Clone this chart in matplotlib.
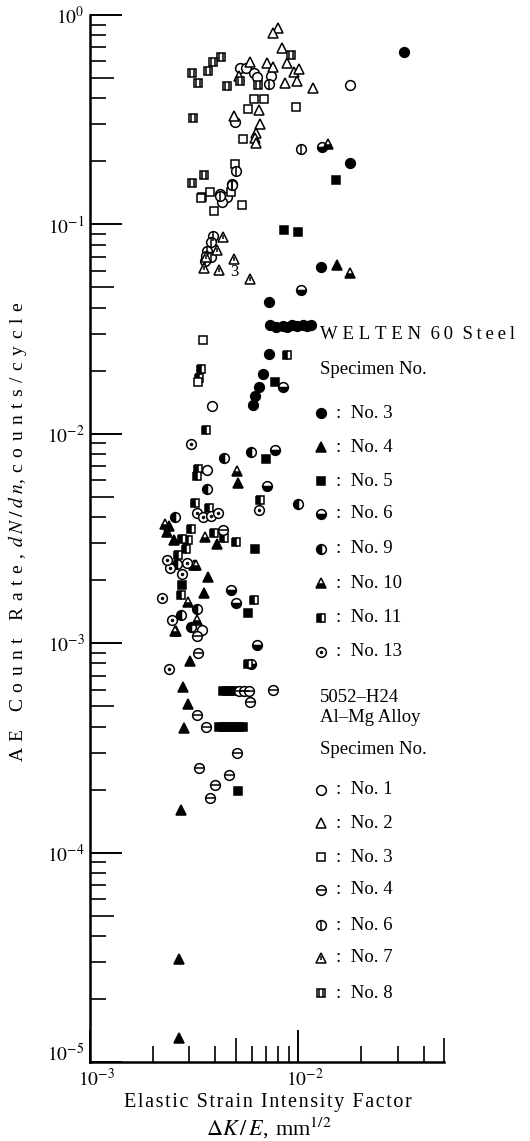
import matplotlib
matplotlib.use("Agg")
import matplotlib.pyplot as plt
import matplotlib.transforms as mtrans
from matplotlib.path import Path
from matplotlib.ticker import FixedLocator, NullLocator, NullFormatter

plt.rcParams['font.family'] = ['Liberation Serif', 'DejaVu Serif']
plt.rcParams['mathtext.fontset'] = 'stix'

# ---------------- data (WELTEN 60 steel) ----------------
s3_x = [3.2e-2, 1.76e-2, 1.29e-2, 7.26e-3, 7.33e-3, 7.8e-3, 8.4e-3, 8.85e-3, 9.3e-3, 9.9e-3, 1.05e-2, 1.1e-2,
        1.15e-2, 7.2e-3, 6.8e-3, 6.5e-3, 6.2e-3, 6.08e-3]
s3_y = [0.665, 0.196, 0.0626, 0.0426, 0.0330, 0.0325, 0.0328, 0.0322, 0.0330, 0.0326, 0.0330, 0.0328,
        0.0330, 0.024, 0.0193, 0.0167, 0.0152, 0.0137]

s4_x = [1.54e-2, 5.15e-3, 4.08e-3, 2.4e-3, 2.35e-3, 2.53e-3, 3.69e-3, 3.54e-3, 2.59e-3, 3.03e-3, 2.8e-3,
        2.96e-3, 2.83e-3, 2.74e-3, 2.68e-3, 2.68e-3]
s4_y = [0.064, 5.8e-3, 2.98e-3, 3.63e-3, 3.4e-3, 3.1e-3, 2.07e-3, 1.74e-3, 1.14e-3, 8.2e-4, 6.2e-4,
        5.1e-4, 3.94e-4, 1.6e-4, 3.1e-5, 1.3e-5]

s5_x = [1.51e-2, 8.57e-3, 1.0e-2, 7.74e-3, 7.0e-3, 6.2e-3, 2.77e-3, 5.75e-3, 5.15e-3,
        4.36e-3, 4.56e-3, 4.77e-3, 4.98e-3,
        4.17e-3, 4.36e-3, 4.56e-3, 4.77e-3, 4.98e-3, 5.2e-3, 5.44e-3]
s5_y = [0.163, 0.094, 0.092, 0.0177, 7.58e-3, 2.82e-3, 1.9e-3, 1.39e-3, 1.97e-4,
        5.9e-4, 5.9e-4, 5.9e-4, 5.9e-4,
        3.98e-4, 3.98e-4, 3.98e-4, 3.98e-4, 3.98e-4, 3.98e-4, 3.98e-4]

s6_x = [1.3e-2, 1.03e-2, 8.48e-3, 7.74e-3, 7.1e-3, 4.76e-3, 5.0e-3, 6.35e-3, 5.93e-3]
s6_y = [0.234, 0.0486, 0.0167, 8.37e-3, 5.63e-3, 1.8e-3, 1.56e-3, 9.8e-4, 7.96e-4]

s9_x = [4.41e-3, 5.93e-3, 3.66e-3, 1.0e-2, 2.56e-3, 3.27e-3, 2.74e-3, 3.06e-3, 2.62e-3]
s9_y = [7.66e-3, 8.2e-3, 5.45e-3, 4.62e-3, 4.0e-3, 1.46e-3, 1.36e-3, 1.19e-3, 2.39e-3]

s10_x = [1.38e-2, 1.76e-2, 5.09e-3, 3.57e-3, 3.16e-3, 2.96e-3, 3.27e-3, 2.56e-3, 3.23e-3, 2.3e-3]
s10_y = [0.242, 0.0586, 6.64e-3, 3.2e-3, 2.36e-3, 1.57e-3, 1.29e-3, 1.14e-3, 2.37e-3, 3.7e-3]

s11_x = [3.6e-3, 3.3e-3, 3.27e-3, 3.2e-3, 3.74e-3, 3.06e-3, 2.77e-3, 2.96e-3, 2.9e-3, 3.95e-3, 4.41e-3,
         5.04e-3, 2.65e-3, 6.15e-3, 2.74e-3, 8.85e-3, 6.56e-3, 5.75e-3, 3.4e-3, 3.35e-3]
s11_y = [1.04e-2, 6.8e-3, 6.29e-3, 4.67e-3, 4.42e-3, 3.51e-3, 3.15e-3, 3.1e-3, 2.82e-3, 3.36e-3, 3.17e-3,
         3.04e-3, 2.64e-3, 1.61e-3, 1.7e-3, 0.0238, 4.83e-3, 7.96e-4, 0.0204, 0.0185]

s13_x = [3.06e-3, 3.27e-3, 3.5e-3, 3.82e-3, 4.12e-3, 6.5e-3, 2.43e-3, 2.77e-3, 2.22e-3, 2.48e-3, 2.4e-3,
         2.93e-3, 2.35e-3]
s13_y = [8.94e-3, 4.19e-3, 4.0e-3, 4.05e-3, 4.19e-3, 4.33e-3, 2.29e-3, 2.14e-3, 1.64e-3, 1.29e-3, 7.5e-4,
         2.41e-3, 2.5e-3]

# ---------------- data (5052-H24 Al-Mg alloy) ----------------
a1_x = [1.76e-2, 5.26e-3, 5.6e-3, 6.15e-3, 6.35e-3, 7.4e-3, 4.98e-3, 4.22e-3, 4.55e-3, 4.32e-3, 3.86e-3,
        3.66e-3, 3.45e-3]
a1_y = [0.463, 0.558, 0.558, 0.529, 0.506, 0.51, 0.308, 0.14, 0.135, 0.128, 0.0136, 6.7e-3, 1.15e-3]

a2_x = [8.0e-3, 7.57e-3, 8.3e-3, 5.87e-3, 7.1e-3, 7.57e-3, 8.85e-3, 9.5e-3, 1.01e-2, 5.2e-3, 8.67e-3,
        9.9e-3, 1.17e-2, 6.5e-3, 4.92e-3, 6.56e-3, 6.28e-3, 6.2e-3, 6.28e-3]
a2_y = [0.867, 0.82, 0.695, 0.597, 0.59, 0.565, 0.59, 0.534, 0.552, 0.51, 0.474,
        0.485, 0.448, 0.352, 0.33, 0.301, 0.273, 0.26, 0.245]

a3_x = [6.15e-3, 6.85e-3, 5.75e-3, 9.7e-3, 5.45e-3, 4.98e-3, 3.45e-3, 3.77e-3, 4.76e-3, 5.38e-3, 3.95e-3,
        3.42e-3, 3.5e-3, 3.3e-3]
a3_y = [0.397, 0.397, 0.356, 0.365, 0.256, 0.194, 0.135, 0.143, 0.143, 0.124, 0.116,
        0.133, 0.028, 0.0177]

a4_x = [3.27e-3, 3.3e-3, 3.27e-3, 3.6e-3, 7.58e-3, 5.87e-3, 5.09e-3, 3.34e-3, 4.65e-3, 4.0e-3, 3.77e-3,
        5.2e-3, 5.5e-3, 5.8e-3, 4.36e-3]
a4_y = [1.08e-3, 8.98e-4, 4.54e-4, 3.98e-4, 5.98e-4, 5.24e-4, 2.99e-4, 2.54e-4, 2.35e-4, 2.1e-4, 1.82e-4,
        5.9e-4, 5.9e-4, 5.9e-4, 3.47e-3]

a6_x = [7.26e-3, 1.03e-2, 5.04e-3, 4.82e-3, 3.9e-3, 3.8e-3, 3.66e-3, 3.6e-3, 3.57e-3, 3.8e-3, 4.22e-3, 4.82e-3]
a6_y = [0.468, 0.229, 0.18, 0.156, 0.088, 0.082, 0.075, 0.071, 0.067, 0.07, 0.137, 0.154]

a7_x = [4.36e-3, 4.92e-3, 4.17e-3, 5.87e-3, 3.54e-3, 3.6e-3, 4.05e-3]
a7_y = [0.087, 0.0684, 0.0606, 0.0548, 0.062, 0.0699, 0.0752]

a8_x = [4.26e-3, 3.9e-3, 3.09e-3, 3.7e-3, 3.3e-3, 4.55e-3, 5.26e-3, 6.4e-3, 9.25e-3, 3.13e-3, 3.54e-3, 3.09e-3]
a8_y = [0.63, 0.597, 0.53, 0.54, 0.474, 0.458, 0.484, 0.463, 0.644, 0.322, 0.172, 0.158]

steel_labels = ["No. 3", "No. 4", "No. 5", "No. 6", "No. 9", "No. 10", "No. 11", "No. 13"]
al_labels = ["No. 1", "No. 2", "No. 3", "No. 4", "No. 6", "No. 7", "No. 8"]

x_major = [1e-3, 1e-2]
x_major_labels = [r"$10^{-3}$", r"$10^{-2}$"]
y_major = [1e-5, 1e-4, 1e-3, 1e-2, 1e-1, 1e0]
y_major_labels = [r"$10^{-5}$", r"$10^{-4}$", r"$10^{-3}$", r"$10^{-2}$", r"$10^{-1}$", r"$10^{0}$"]

# ---------------- marker drawing ----------------
TWO_BARS = Path([(-0.35, -1), (-0.35, 1), (0.35, -1), (0.35, 1)],
                [Path.MOVETO, Path.LINETO, Path.MOVETO, Path.LINETO])

MS_C = 7.0
MS_T = 7.5
MS_S = 6.3
MEW = 1.1


def draw(ax, xs, ys, kind, **extra):
    kw = dict(linestyle='none', clip_on=False, mec='k', mew=MEW)
    kw.update(extra)
    if kind == 'fc':
        ax.plot(xs, ys, marker='o', ms=MS_C, mfc='k', **kw)
    elif kind == 'ft':
        ax.plot(xs, ys, marker='^', ms=MS_T, mfc='k', **kw)
    elif kind == 'fs':
        ax.plot(xs, ys, marker='s', ms=MS_S, mfc='k', **kw)
    elif kind == 'cb':
        ax.plot(xs, ys, marker='o', ms=MS_C, mfc='k', mfcalt='w', fillstyle='bottom', **kw)
    elif kind == 'cl':
        ax.plot(xs, ys, marker='o', ms=MS_C, mfc='k', mfcalt='w', fillstyle='left', **kw)
    elif kind == 'tb':
        ax.plot(xs, ys, marker='^', ms=MS_T, mfc='k', mfcalt='w', fillstyle='bottom', **kw)
    elif kind == 'sl':
        ax.plot(xs, ys, marker='s', ms=MS_S, mfc='k', mfcalt='w', fillstyle='left', **kw)
    elif kind == 'cd':
        ax.plot(xs, ys, marker='o', ms=MS_C, mfc='w', **kw)
        ax.plot(xs, ys, marker='o', ms=2.0, mfc='k', **dict(kw, mew=0.5))
    elif kind == 'oc':
        ax.plot(xs, ys, marker='o', ms=MS_C, mfc='w', **kw)
    elif kind == 'ot':
        ax.plot(xs, ys, marker='^', ms=MS_T, mfc='w', **kw)
    elif kind == 'os':
        ax.plot(xs, ys, marker='s', ms=MS_S, mfc='w', **kw)
    elif kind == 'ch':
        ax.plot(xs, ys, marker='o', ms=MS_C, mfc='w', **kw)
        ax.plot(xs, ys, marker='_', ms=MS_C, **kw)
    elif kind == 'cv':
        ax.plot(xs, ys, marker='o', ms=MS_C, mfc='w', **kw)
        ax.plot(xs, ys, marker='|', ms=MS_C, **kw)
    elif kind == 'tv':
        ax.plot(xs, ys, marker='^', ms=MS_T, mfc='w', **kw)
        ax.plot(xs, ys, marker='|', ms=3.5, **kw)
    elif kind == 'sv':
        ax.plot(xs, ys, marker='s', ms=MS_S, mfc='w', **kw)
        ax.plot(xs, ys, marker=TWO_BARS, ms=MS_S, mfc='none', **kw)


def spaced(s, sp):
    return sp.join(s)


W, H = 530, 1141
fig = plt.figure(figsize=(W / 100, H / 100), dpi=100)
ax = fig.add_axes([90 / W, 1 - 1062 / H, 354 / W, 1047 / H])
ax.set_xscale('log')
ax.set_yscale('log')
ax.set_xlim(1e-3, 5e-2)
ax.set_ylim(1e-5, 1)
for s in ['top', 'right']:
    ax.spines[s].set_visible(False)
for s in ['left', 'bottom']:
    ax.spines[s].set_linewidth(1.8)

ax.xaxis.set_major_locator(FixedLocator(x_major))
ax.set_xticklabels(x_major_labels)
ax.xaxis.set_minor_locator(FixedLocator([2e-3, 3e-3, 4e-3, 6e-3, 7e-3, 8e-3, 9e-3, 2e-2, 3e-2, 4e-2]))
ax.xaxis.set_minor_formatter(NullFormatter())
ax.yaxis.set_major_locator(FixedLocator(y_major))
ax.set_yticklabels(y_major_labels)
yminor = [m * 10.0 ** e for e in range(-5, 0) for m in (2, 3, 4, 6, 7, 8, 9)]
ax.yaxis.set_minor_locator(FixedLocator(yminor))
ax.yaxis.set_minor_formatter(NullFormatter())
ax.tick_params(which='major', direction='in', length=23, width=1.4, labelsize=14, pad=4)
ax.tick_params(which='minor', direction='in', length=11.5, width=1.2)

# shift the corner tick labels apart, as in the reference
ax.yaxis.get_major_ticks()[0].label1.set_transform(
    ax.yaxis.get_major_ticks()[0].label1.get_transform()
    + mtrans.ScaledTranslation(0, 10 / 100, fig.dpi_scale_trans))
for t in ax.xaxis.get_major_ticks():
    t.label1.set_transform(t.label1.get_transform()
                           + mtrans.ScaledTranslation(6 / 100, 0, fig.dpi_scale_trans))

# longer ticks at 5 x 10^n
secx = ax.secondary_xaxis('bottom')
secx.set_xticks([5e-3, 5e-2])
secx.xaxis.set_minor_locator(NullLocator())
secx.tick_params(direction='in', length=17, width=1.2, labelbottom=False)
secx.spines['bottom'].set_visible(False)
secy = ax.secondary_yaxis('left')
secy.set_yticks([5 * 10.0 ** e for e in range(-5, 0)])
secy.yaxis.set_minor_locator(NullLocator())
secy.tick_params(direction='in', length=17, width=1.2, labelleft=False)
secy.spines['left'].set_visible(False)

draw(ax, s3_x, s3_y, 'fc')
draw(ax, s4_x, s4_y, 'ft')
draw(ax, s5_x, s5_y, 'fs')
draw(ax, s6_x, s6_y, 'cb')
draw(ax, s9_x, s9_y, 'cl')
draw(ax, s10_x, s10_y, 'tb')
draw(ax, s11_x, s11_y, 'sl')
draw(ax, s13_x, s13_y, 'cd')
draw(ax, a1_x, a1_y, 'oc')
draw(ax, a2_x, a2_y, 'ot')
draw(ax, a3_x, a3_y, 'os')
draw(ax, a4_x, a4_y, 'ch')
draw(ax, a6_x, a6_y, 'cv')
draw(ax, a7_x, a7_y, 'tv')
draw(ax, a8_x, a8_y, 'sv')
ax.text(4.7e-3, 0.059, "3", fontsize=12, va='center', ha='left')

# ---------------- legend (drawn as text + glyphs) ----------------
def fy(py):
    return 1 - py / H


LX = 321 / W
TX = 336 / W
fsz = 13.5
fig.text(320 / W, fy(335), spaced("WELTEN", "\u2005") + " \u2005" + spaced("60", "\u2009")
         + " \u2005" + spaced("Steel", "\u2009"), fontsize=fsz, va='center')
fig.text(320 / W, fy(370), "Specimen No.", fontsize=fsz, va='center')
steel_kinds = ['fc', 'ft', 'fs', 'cb', 'cl', 'tb', 'sl', 'cd']
steel_ys = [413, 447, 481, 514, 549, 583, 618, 652]
for k, lab, py in zip(steel_kinds, steel_labels, steel_ys):
    draw(ax, [LX], [fy(py)], k, transform=fig.transFigure)
    fig.text(TX, fy(py), ":  " + lab, fontsize=fsz, va='center')

fig.text(320 / W, fy(697), "5052\u2013H24", fontsize=fsz, va='center')
fig.text(320 / W, fy(717), "Al\u2013Mg Alloy", fontsize=fsz, va='center')
fig.text(320 / W, fy(750), "Specimen No.", fontsize=fsz, va='center')
al_kinds = ['oc', 'ot', 'os', 'ch', 'cv', 'tv', 'sv']
al_ys = [790, 823, 857, 890, 925, 958, 993]
for k, lab, py in zip(al_kinds, al_labels, al_ys):
    draw(ax, [LX], [fy(py)], k, transform=fig.transFigure)
    fig.text(TX, fy(py), ":  " + lab, fontsize=fsz, va='center')

# ---------------- axis titles ----------------
fig.text(268 / W, fy(1103), spaced("Elastic Strain Intensity Factor", "\u200a"),
         fontsize=14.5, ha='center', va='center')
fig.text(269 / W, fy(1128), r"$\mathit{\Delta K\,/\,E}$," + "\u2004" + r"mm$^{1/2}$",
         fontsize=16, ha='center', va='center')
ylab = (spaced("AE Count Rate,", "\u2004") + "\u2004" + r"$d\;N\;/\;d\;n$" + "," + "\u2004"
        + spaced("counts/cycle", "\u2004"))
fig.text(18 / W, fy(532), ylab, fontsize=14, rotation=90, ha='center', va='center')

fig.savefig("out.png", dpi=100)
